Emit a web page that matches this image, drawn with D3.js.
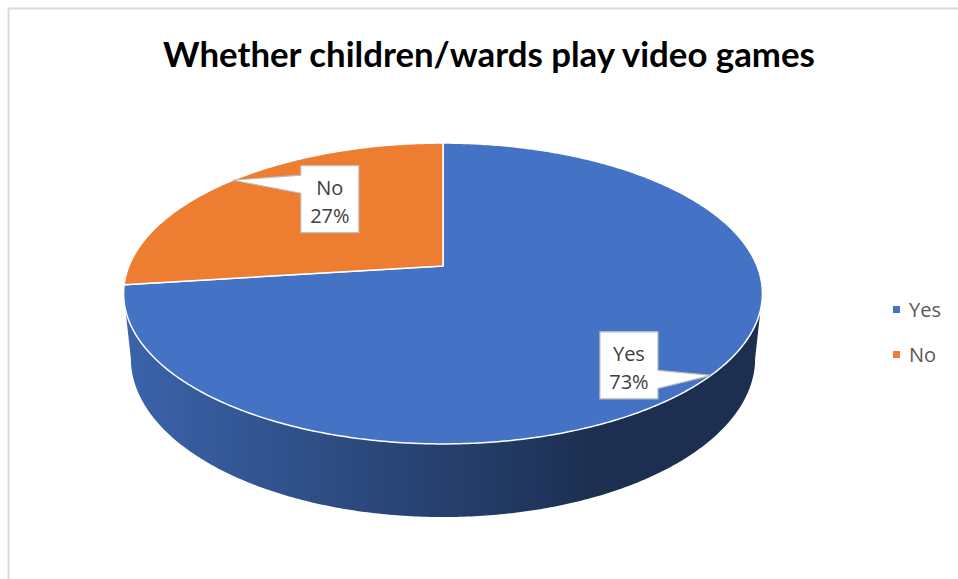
<!DOCTYPE html>
<html>
<head>
<meta charset="utf-8">
<script src="https://cdn.jsdelivr.net/npm/d3@7"></script>
<style>
  body { margin: 0; background: #fff; }
  text { font-family: 'Open Sans', sans-serif; }
</style>
</head>
<body>
<svg id="stage" width="958" height="579"></svg>
<script>
var categories = ['Yes', 'No'],
    values = [73, 27],
    percentLabels = ['73%', '27%'],
    colors = ['#4472c4', '#ed7d31'];

var TITLE = 'Whether children/wards play video games';

var WIDTH = 958,
    HEIGHT = 579,
    CX = 443,          // screen position of the pie centre
    CY = 266,
    ELEV = Math.asin(0.463),
    DIST = 4.85,       // camera distance, in pie radii
    FOCAL = 1523,
    THICK = 0.235;     // pie height, in pie radii

var svg = d3.select('#stage');

// a: angle clockwise from 12 o'clock, h: height (0 = top face)
function project(a, h) {
  var X = Math.sin(a),
      Z = Math.cos(a),
      yc = h * Math.cos(ELEV) + Z * Math.sin(ELEV),
      zc = -h * Math.sin(ELEV) + Z * Math.cos(ELEV) + DIST;
  return [CX + FOCAL * X / zc, CY - FOCAL * yc / zc];
}

function arcPoints(a0, a1, h) {
  var n = Math.max(2, Math.ceil(Math.abs(a1 - a0) / 0.01));
  return d3.range(n + 1).map(function (i) {
    return project(a0 + (a1 - a0) * i / n, h);
  });
}

var line = d3.line();

var data = categories.map(function (c, i) {
  return { name: c, value: values[i], pct: percentLabels[i], color: colors[i] };
});

var arcs = d3.pie()
  .sort(null)
  .value(function (d) { return d.value; })(data);

// chart frame
svg.append('rect')
  .attr('x', 8.5).attr('y', 8.5)
  .attr('width', WIDTH + 20).attr('height', HEIGHT + 20)
  .attr('fill', 'none')
  .attr('stroke', '#d9d9d9')
  .attr('stroke-width', 2);

// silhouette of the side wall, found on the bottom ring
var ring = d3.range(0, 2 * Math.PI, 0.002).map(function (a) {
  return { a: a, x: project(a, -THICK)[0] };
});
var aRight = ring[d3.maxIndex(ring, function (d) { return d.x; })].a,
    aLeft = ring[d3.minIndex(ring, function (d) { return d.x; })].a,
    xLeft = project(aLeft, -THICK)[0],
    xRight = project(aRight, -THICK)[0];

var defs = svg.append('defs');

arcs.forEach(function (d, i) {
  var base = d3.color(d.data.color),
      grad = defs.append('linearGradient')
        .attr('id', 'side' + i)
        .attr('gradientUnits', 'userSpaceOnUse')
        .attr('x1', xLeft).attr('x2', xRight)
        .attr('y1', 0).attr('y2', 0);
  grad.append('stop').attr('offset', 0).attr('stop-color', base.darker(0.4));
  grad.append('stop').attr('offset', 0.45).attr('stop-color', base.darker(1.5));
  grad.append('stop').attr('offset', 0.75).attr('stop-color', base.darker(2.5));
  grad.append('stop').attr('offset', 1).attr('stop-color', base.darker(2.5));
});

// side walls (front part only)
arcs.forEach(function (d, i) {
  var a0 = Math.max(d.startAngle, aRight),
      a1 = Math.min(d.endAngle, aLeft);
  if (a1 <= a0) return;
  var pts = arcPoints(a0, a1, 0).concat(arcPoints(a1, a0, -THICK));
  svg.append('path')
    .attr('d', line(pts) + 'Z')
    .attr('fill', 'url(#side' + i + ')');
});

// top faces
svg.selectAll('path.top')
  .data(arcs)
  .enter()
  .append('path')
    .attr('class', 'top')
    .attr('d', function (d) {
      return line([[CX, CY]].concat(arcPoints(d.startAngle, d.endAngle, 0))) + 'Z';
    })
    .attr('fill', function (d) { return d.data.color; })
    .attr('stroke', '#fff')
    .attr('stroke-width', 1.5)
    .attr('stroke-linejoin', 'round');

// data callouts
var BOX_W = 58, BOX_H = 67;
var calloutOffset = { Yes: [-82, -10], No: [97, 19] };

arcs.forEach(function (d) {
  var mid = (d.startAngle + d.endAngle) / 2,
      tip = project(mid, 0),
      off = calloutOffset[d.data.name],
      bx = tip[0] + off[0] - BOX_W / 2,
      by = tip[1] + off[1] - BOX_H / 2,
      right = tip[0] > bx + BOX_W,
      baseY = Math.min(Math.max(tip[1] + 4, by + 10), by + BOX_H - 10),
      pts;

  if (right) {
    pts = [[bx, by], [bx + BOX_W, by], [bx + BOX_W, baseY - 9], tip,
           [bx + BOX_W, baseY + 9], [bx + BOX_W, by + BOX_H], [bx, by + BOX_H]];
  } else {
    pts = [[bx, by], [bx + BOX_W, by], [bx + BOX_W, by + BOX_H], [bx, by + BOX_H],
           [bx, baseY + 9], tip, [bx, baseY - 9]];
  }

  var g = svg.append('g');

  g.append('path')
    .attr('d', line(pts) + 'Z')
    .attr('fill', '#fff')
    .attr('stroke', '#bfbfbf')
    .attr('stroke-width', 1.2);

  g.append('text')
    .attr('x', bx + BOX_W / 2).attr('y', by + 29)
    .attr('text-anchor', 'middle')
    .attr('font-size', 20)
    .attr('fill', '#404040')
    .text(d.data.name);

  g.append('text')
    .attr('x', bx + BOX_W / 2).attr('y', by + 57)
    .attr('text-anchor', 'middle')
    .attr('font-size', 20)
    .attr('fill', '#404040')
    .text(d.data.pct);
});

// title, fitted to the reference width
var title = svg.append('text')
  .attr('x', 489).attr('y', 67)
  .attr('text-anchor', 'middle')
  .attr('font-weight', 'bold')
  .attr('font-size', 30)
  .attr('fill', '#000')
  .style('font-family', 'Lato, sans-serif')
  .text(TITLE);
var tl = title.node().getComputedTextLength();
title.attr('font-size', 30 * 652 / tl);

// legend
var legend = svg.selectAll('g.legend')
  .data(data)
  .enter()
  .append('g')
    .attr('class', 'legend')
    .attr('transform', function (d, i) { return 'translate(' + [893, 306 + i * 45] + ')'; });

legend.append('rect')
  .attr('width', 7).attr('height', 7)
  .attr('fill', function (d) { return d.color; });

legend.append('text')
  .attr('x', 16).attr('y', 11)
  .attr('font-size', 20)
  .attr('fill', '#595959')
  .text(function (d) { return d.name; });
</script>
</body>
</html>
